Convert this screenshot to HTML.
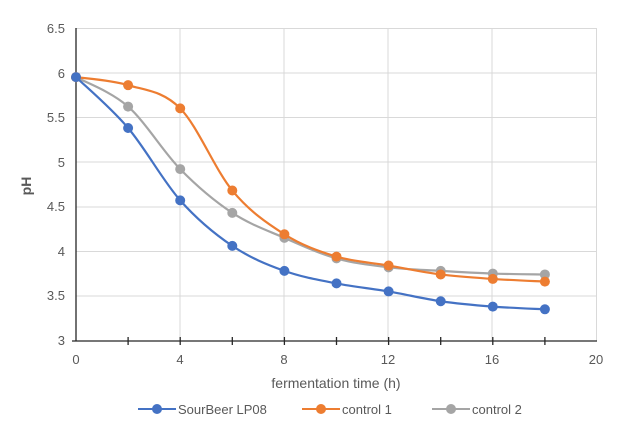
<!DOCTYPE html>
<html><head><meta charset="utf-8"><style>
html,body{margin:0;padding:0;background:#fff;width:640px;height:427px;overflow:hidden}
text{font-family:"Liberation Sans",sans-serif;fill:#595959}
</style></head><body>
<svg id="s" width="640" height="427" xmlns="http://www.w3.org/2000/svg">
<g stroke="#d9d9d9" stroke-width="1">
<line x1="76" y1="28.5" x2="597" y2="28.5"/><line x1="76" y1="73" x2="597" y2="73"/>
<line x1="76" y1="117.5" x2="597" y2="117.5"/><line x1="76" y1="162" x2="597" y2="162"/>
<line x1="76" y1="207" x2="597" y2="207"/><line x1="76" y1="251.5" x2="597" y2="251.5"/>
<line x1="76" y1="296" x2="597" y2="296"/>
<line x1="180" y1="28" x2="180" y2="341"/><line x1="284" y1="28" x2="284" y2="341"/>
<line x1="388" y1="28" x2="388" y2="341"/><line x1="492" y1="28" x2="492" y2="341"/>
<line x1="596.5" y1="28" x2="596.5" y2="341"/>
</g>
<g stroke="#262626" stroke-width="1.3">
<line x1="76" y1="28" x2="76" y2="341"/><line x1="72" y1="341" x2="597" y2="341"/>
</g>
<g id="ticks" stroke="#262626" stroke-width="1.3"></g>
<g font-size="13" text-anchor="end">
<text x="65" y="33">6.5</text><text x="65" y="78">6</text><text x="65" y="122">5.5</text>
<text x="65" y="167">5</text><text x="65" y="211">4.5</text><text x="65" y="256">4</text>
<text x="65" y="300">3.5</text><text x="65" y="345">3</text>
</g>
<g font-size="13" text-anchor="middle">
<text x="76" y="364">0</text><text x="180" y="364">4</text><text x="284" y="364">8</text>
<text x="388" y="364">12</text><text x="492" y="364">16</text><text x="596" y="364">20</text>
<text x="336" y="388" font-size="14">fermentation time (h)</text>
</g>
<text x="0" y="0" font-size="14" font-weight="bold" text-anchor="middle" transform="translate(31,186) rotate(-90)">pH</text>
<g id="series"></g>
<g font-size="13">
<line x1="138" y1="409" x2="176" y2="409" stroke="#4472C4" stroke-width="2"/><circle cx="157" cy="409" r="5" fill="#4472C4"/>
<text x="178" y="414">SourBeer LP08</text>
<line x1="302" y1="409" x2="340" y2="409" stroke="#ED7D31" stroke-width="2"/><circle cx="321" cy="409" r="5" fill="#ED7D31"/>
<text x="342" y="414">control 1</text>
<line x1="432" y1="409" x2="470" y2="409" stroke="#A5A5A5" stroke-width="2"/><circle cx="451" cy="409" r="5" fill="#A5A5A5"/>
<text x="472" y="414">control 2</text>
</g>
</svg>
<script>
var NS="http://www.w3.org/2000/svg";
function X(v){return 76+v*26.05}function Y(v){return 28+(6.5-v)*89.3}
var t=document.getElementById("ticks");
for(var i=2;i<20;i+=2){var l=document.createElementNS(NS,"line");l.setAttribute("x1",X(i));l.setAttribute("x2",X(i));l.setAttribute("y1",337);l.setAttribute("y2",345);t.appendChild(l);}
var xs=[0,2,4,6,8,10,12,14,16,18];
var S=[["#A5A5A5",[5.95,5.62,4.92,4.43,4.15,3.92,3.82,3.78,3.75,3.74]],
["#ED7D31",[5.95,5.86,5.6,4.68,4.19,3.94,3.84,3.74,3.69,3.66]],
["#4472C4",[5.95,5.38,4.57,4.06,3.78,3.64,3.55,3.44,3.38,3.35]]];
var g=document.getElementById("series");
S.forEach(function(s){var p=xs.map(function(x,i){return[X(x),Y(s[1][i])]});
var d="M"+p[0][0]+","+p[0][1];
for(var i=0;i<p.length-1;i++){var p0=p[i-1]||p[i],p1=p[i],p2=p[i+1],p3=p[i+2]||p2;
d+=" C"+(p1[0]+(p2[0]-p0[0])/6)+","+(p1[1]+(p2[1]-p0[1])/6)+" "+(p2[0]-(p3[0]-p1[0])/6)+","+(p2[1]-(p3[1]-p1[1])/6)+" "+p2[0]+","+p2[1];}
var pa=document.createElementNS(NS,"path");pa.setAttribute("d",d);pa.setAttribute("fill","none");pa.setAttribute("stroke",s[0]);pa.setAttribute("stroke-width","2.2");g.appendChild(pa);
p.forEach(function(q){var c=document.createElementNS(NS,"circle");c.setAttribute("cx",q[0]);c.setAttribute("cy",q[1]);c.setAttribute("r","5");c.setAttribute("fill",s[0]);g.appendChild(c);});});
</script>
</body></html>
